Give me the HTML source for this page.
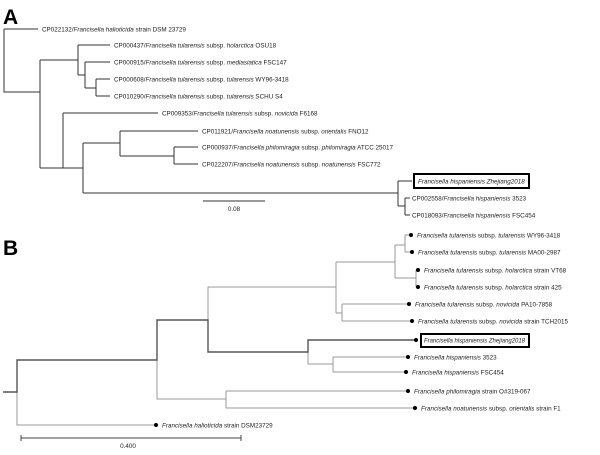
<!DOCTYPE html>
<html><head><meta charset="utf-8"><style>
html,body{margin:0;padding:0;background:#fff;width:600px;height:455px;overflow:hidden}
svg{display:block}
text{font-family:"Liberation Sans",sans-serif;font-size:6.3px;fill:#222}
.A path{stroke:#333;stroke-width:1;fill:none}
.Bl path{stroke:#9a9a9a;stroke-width:1;fill:none}
.Bd path{stroke:#555;stroke-width:1.4;fill:none}
circle{fill:#000}
</style></head><body>
<svg width="600" height="455" viewBox="0 0 600 455">
<text x="3" y="24" style="font-size:21px;font-weight:bold;fill:#000">A</text>
<g class="A">
<path d="M4 29V92H40M4 29H38"/>
<path d="M40 60V168M40 60H78M78 45V75M78 45H110M78 75H85M85 62V88M85 62H110M85 88H96M96 79V96M96 79H110M96 96H110"/>
<path d="M40 168H63M63 113V168M63 113H158M63 168H83M83 143V193M83 143H120M120 131V156M120 131H198M120 156H174M174 147V164M174 147H198M174 164H198"/>
<path d="M83 193H398M398 181V206M398 181H412M398 206H405M405 198V215M405 198H410M405 215H410"/>
<path d="M203 201H265"/>
</g>
<g>
<text x="42" y="31.5">CP022132/<tspan font-style="italic">Francisella halioticida</tspan> strain DSM 23729</text>
<text x="114" y="47.5">CP000437/<tspan font-style="italic">Francisella tularensis</tspan> subsp. <tspan font-style="italic">holarctica</tspan> OSU18</text>
<text x="114" y="64.5">CP000915/<tspan font-style="italic">Francisella tularensis</tspan> subsp. <tspan font-style="italic">mediasiatica</tspan> FSC147</text>
<text x="114" y="81.5">CP000608/<tspan font-style="italic">Francisella tularensis</tspan> subsp. <tspan font-style="italic">tularensis</tspan> WY96-3418</text>
<text x="114" y="98.5">CP010290/<tspan font-style="italic">Francisella tularensis</tspan> subsp. <tspan font-style="italic">tularensis</tspan> SCHU S4</text>
<text x="162" y="115.5">CP009353/<tspan font-style="italic">Francisella tularensis</tspan> subsp. <tspan font-style="italic">novicida</tspan> F6168</text>
<text x="202" y="133.5">CP011921/<tspan font-style="italic">Francisella noatunensis</tspan> subsp. <tspan font-style="italic">orientalis</tspan> FNO12</text>
<text x="202" y="149.5">CP000937/<tspan font-style="italic">Francisella philomiragia</tspan> subsp. <tspan font-style="italic">philomiragia</tspan> ATCC 25017</text>
<text x="202" y="166.5">CP022207/<tspan font-style="italic">Francisella noatunensis</tspan> subsp. <tspan font-style="italic">noatunensis</tspan> FSC772</text>
<rect x="414" y="174" width="115" height="14" fill="none" stroke="#000" stroke-width="2"/>
<text x="418" y="183.5" font-style="italic">Francisella hispaniensis Zhejiang2018</text>
<text x="412" y="200.5">CP002558/<tspan font-style="italic">Francisella hispaniensis</tspan> 3523</text>
<text x="412" y="217.5">CP018093/<tspan font-style="italic">Francisella hispaniensis</tspan> FSC454</text>
<text x="234" y="211" text-anchor="middle">0.08</text>
</g>

<text x="3" y="255" style="font-size:21px;font-weight:bold;fill:#000">B</text>
<g class="Bl">
<path d="M17 392V425H156"/>
<path d="M157 360V399H226M226 391V408M226 391H408M226 408H415"/>
<path d="M208 320V287H336M336 262V313M336 262H395M395 245V278M395 245H405M405 235V252M405 235H411M405 252H412M395 278H416M416 270V287M416 270H418M416 287H418M336 313H342M342 304V321M342 304H409M342 321H412"/>
<path d="M308 352V364H333M333 357V372M333 357H408M333 372H406"/>
<path d="M21 438H241M21 435V441M241 435V441" style="stroke:#444"/>
</g>
<g class="Bd">
<path d="M3 392H17V360H157V320H208V352H308V340H416"/>
</g>
<g>
<circle cx="156" cy="425" r="2"/><circle cx="411" cy="235" r="2"/><circle cx="412" cy="252" r="2"/>
<circle cx="418" cy="270" r="2"/><circle cx="418" cy="287" r="2"/><circle cx="409" cy="304" r="2"/>
<circle cx="412" cy="321" r="2"/><circle cx="416" cy="340" r="2"/><circle cx="408" cy="357" r="2"/>
<circle cx="406" cy="372" r="2"/><circle cx="408" cy="391" r="2"/><circle cx="415" cy="408" r="2"/>
</g>
<g>
<text x="162" y="427.5"><tspan font-style="italic">Francisella halioticida</tspan> strain DSM23729</text>
<text x="417" y="237.5"><tspan font-style="italic">Francisella tularensis</tspan> subsp. <tspan font-style="italic">tularensis</tspan> WY96-3418</text>
<text x="418" y="254.5"><tspan font-style="italic">Francisella tularensis</tspan> subsp. <tspan font-style="italic">tularensis</tspan> MA00-2987</text>
<text x="424" y="272.5"><tspan font-style="italic">Francisella tularensis</tspan> subsp. <tspan font-style="italic">holarctica</tspan> strain VT68</text>
<text x="424" y="289.5"><tspan font-style="italic">Francisella tularensis</tspan> subsp. <tspan font-style="italic">holarctica</tspan> strain 425</text>
<text x="415" y="306.5"><tspan font-style="italic">Francisella tularensis</tspan> subsp. <tspan font-style="italic">novicida</tspan> PA10-7858</text>
<text x="418" y="323.5"><tspan font-style="italic">Francisella tularensis</tspan> subsp. <tspan font-style="italic">novicida</tspan> strain TCH2015</text>
<rect x="421" y="334" width="108" height="13" fill="none" stroke="#000" stroke-width="2"/>
<text x="424" y="342.5" font-style="italic" style="font-size:6px" textLength="101" lengthAdjust="spacingAndGlyphs">Francisella hispaniensis Zhejiang2018</text>
<text x="414" y="359.5" font-style="italic">Francisella hispaniensis <tspan font-style="normal">3523</tspan></text>
<text x="412" y="374.5" font-style="italic">Francisella hispaniensis <tspan font-style="normal">FSC454</tspan></text>
<text x="414" y="393.5"><tspan font-style="italic">Francisella philomiragia</tspan> strain O#319-067</text>
<text x="421" y="410.5"><tspan font-style="italic">Francisella noatunensis</tspan> subsp. <tspan font-style="italic">orientalis</tspan> strain F1</text>
<text x="128" y="448" text-anchor="middle">0.400</text>
</g>
</svg>
</body></html>
